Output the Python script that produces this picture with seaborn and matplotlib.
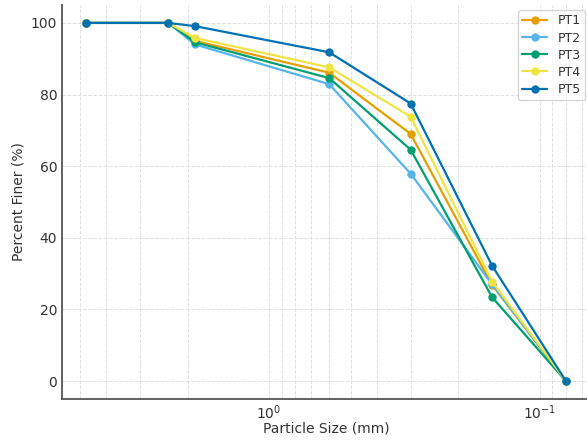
import matplotlib
matplotlib.use("Agg")
import matplotlib.pyplot as plt
import seaborn as sns
import pandas as pd

sizes = [4.75, 2.36, 1.88, 0.6, 0.3, 0.15, 0.08]
pt1 = [100, 100, 95.0, 86.1, 69.0, 26.8, 0]
pt2 = [100, 100, 94.0, 82.9, 57.9, 27.0, 0]
pt3 = [100, 100, 94.6, 84.6, 64.6, 23.4, 0]
pt4 = [100, 100, 95.8, 87.6, 73.8, 27.8, 0]
pt5 = [100, 100, 99.1, 91.8, 77.5, 32.2, 0]
series = {"PT1": pt1, "PT2": pt2, "PT3": pt3, "PT4": pt4, "PT5": pt5}
colors = ["#E69F00", "#56B4E9", "#009E73", "#F0E442", "#0072B2"]

rows = []
for name, vals in series.items():
    for s, v in zip(sizes, vals):
        rows.append({"size": s, "finer": v, "sample": name})
df = pd.DataFrame(rows)

sns.set_style("white")
plt.rcParams['font.family'] = ['DejaVu Sans']

fig = plt.figure(figsize=(5.87, 4.41), dpi=100)
ax = fig.add_axes([62/587, 42/441, (590-62)/587, (436-42)/441])

sns.lineplot(data=df, x="size", y="finer", hue="sample", palette=colors,
             marker="o", markersize=6, markeredgewidth=0, linewidth=1.6,
             sort=False, estimator=None, ax=ax)

ax.set_xscale("log")
ax.invert_xaxis()
ax.set_ylim(-5, 105)
ax.set_yticks([0, 20, 40, 60, 80, 100])
ax.grid(True, which="both", linestyle="--", color="#e0e0e0", linewidth=0.7)
ax.set_axisbelow(True)
for sp in ["top", "right"]:
    ax.spines[sp].set_visible(False)
for sp in ["left", "bottom"]:
    ax.spines[sp].set_color("#555555")
    ax.spines[sp].set_linewidth(1.3)
ax.tick_params(axis="both", which="both", direction="in", colors="#555555",
               labelcolor="#333333", labelsize=10)
ax.tick_params(axis="x", which="major", length=5)
ax.tick_params(axis="x", which="minor", length=3)
ax.set_xlabel("Particle Size (mm)", fontsize=10, color="#333333", labelpad=-1)
ax.set_ylabel("Percent Finer (%)", fontsize=10, color="#333333")
leg = ax.legend(loc="upper right", fontsize=9, frameon=True, borderaxespad=0.4,
                labelspacing=0.33, handlelength=2.0, borderpad=0.35)
leg.get_frame().set_edgecolor("#cccccc")
for t in leg.get_texts():
    t.set_color("#333333")

fig.savefig("out.png", dpi=100)
